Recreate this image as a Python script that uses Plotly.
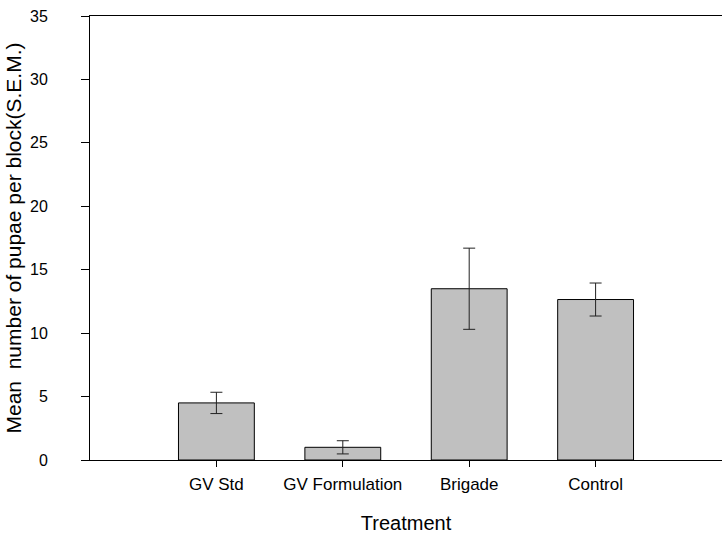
import plotly.graph_objects as go

# Mean pupae counts per block with standard errors
treatments = ["GV Std", "GV Formulation", "Brigade", "Control"]
mean_pupae = [4.5, 1.0, 13.5, 12.65]
sem_pupae = [0.84, 0.52, 3.2, 1.3]

FONT = "Liberation Sans, Arial, sans-serif"

fig = go.Figure()
fig.add_trace(go.Bar(
    x=list(range(len(treatments))),
    y=mean_pupae,
    width=0.6,
    marker=dict(color="#c0c0c0", line=dict(color="#000000", width=1)),
    error_y=dict(type="data", array=sem_pupae, visible=True,
                 color="#222222", thickness=1, width=6),
    showlegend=False,
))

fig.update_layout(
    width=723, height=542,
    margin=dict(l=90, r=1, t=16, b=82),
    paper_bgcolor="white", plot_bgcolor="white",
    font=dict(family=FONT, size=16, color="black"),
    xaxis=dict(
        range=[-1, 4],
        tickmode="array",
        tickvals=list(range(len(treatments))),
        ticktext=treatments,
        tickfont=dict(size=17),
        showline=True, linecolor="black", linewidth=1, mirror=True,
        ticks="outside", ticklen=6, tickcolor="black",
        ticklabelstandoff=3,
        showgrid=False, zeroline=False,
        title=dict(text="Treatment", font=dict(size=20), standoff=22),
    ),
    yaxis=dict(
        range=[0, 35],
        tickvals=[0, 5, 10, 15, 20, 25, 30, 35],
        tickfont=dict(size=16),
        showline=True, linecolor="black", linewidth=1,
        ticks="outside", ticklen=8, tickcolor="black",
        ticklabelstandoff=30,
        showgrid=False, zeroline=False,
        title=dict(text="Mean  number of pupae per block(S.E.M.)",
                   font=dict(size=21), standoff=2),
    ),
)

fig.write_html("out.html")
